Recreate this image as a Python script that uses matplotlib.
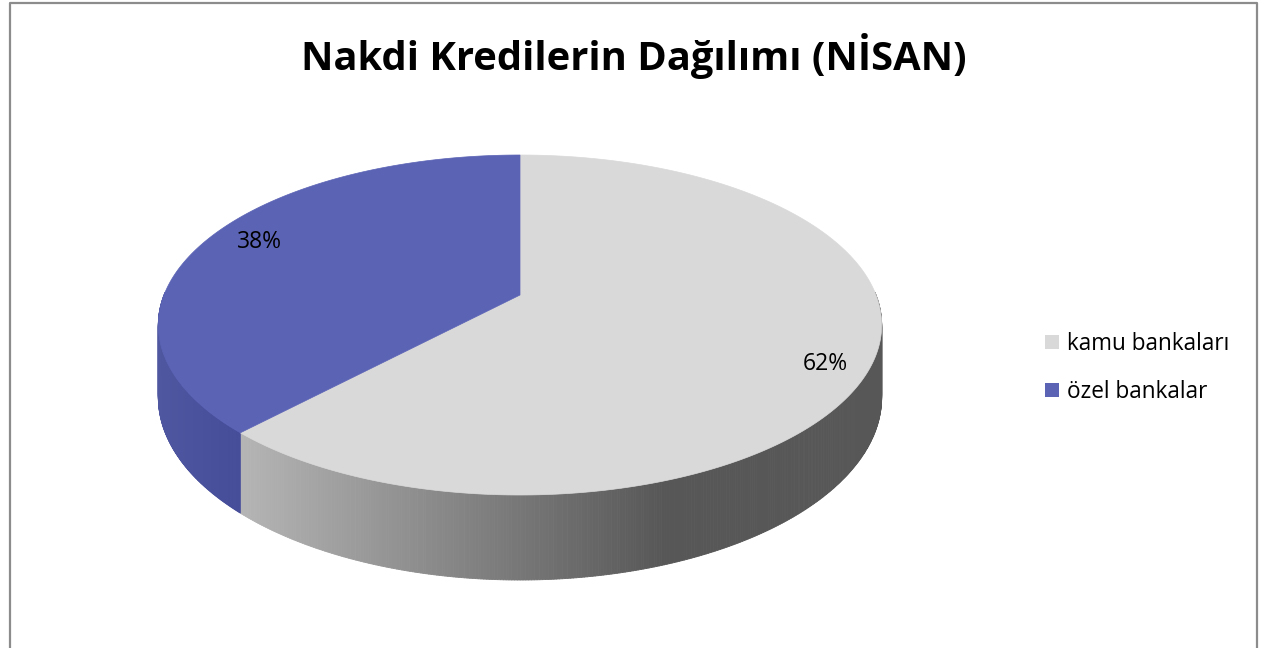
import numpy as np
import matplotlib.pyplot as plt
from matplotlib.patches import Polygon, Patch
from matplotlib.collections import PolyCollection
from matplotlib.lines import Line2D

# data
labels = ["kamu bankaları", "özel bankalar"]
shares = [62, 38]
title = "Nakdi Kredilerin Dağılımı (NİSAN)"

# look
top_colors = ["#d9d9d9", "#5b63b5"]
wall_light = [(0.71, 0.71, 0.71), (0.31, 0.34, 0.63)]
wall_dark = [(0.34, 0.34, 0.34), (0.27, 0.30, 0.60)]
wall_span = [(240, 665), (160, 240)]   # x range of the shading ramp
label_r = [0.87, 0.83]
label_drop = [12, -6]

plt.rcParams['font.family'] = ['Open Sans', 'DejaVu Sans']

W, H = 1263, 648
fig = plt.figure(figsize=(W / 100, H / 100), dpi=100)
ax = fig.add_axes([0, 0, 1, 1])
ax.set_xlim(0, W)
ax.set_ylim(H, 0)
ax.axis('off')

# pie geometry in pixels (perspective tilt k)
cx, cy = 520, 295
a, b, k, depth = 356, 164.7, 0.1765, 70


def proj(theta, r=1.0, drop=0.0):
    u = r * np.cos(theta)
    v = r * np.sin(theta)
    w = 1 + k * v
    return cx + a * u / w, cy - b * v / w + drop / w


fracs = np.array(shares, dtype=float) / sum(shares)
bounds = np.pi / 2 - 2 * np.pi * np.concatenate([[0], np.cumsum(fracs)])

# walls first
for i in range(len(shares)):
    t = np.linspace(bounds[i], bounds[i + 1], 600)
    front = np.sin(t) <= 0.02
    if not front.any():
        continue
    tt = t[front]
    xt, yt = proj(tt)
    xb, yb = proj(tt, drop=depth)
    quads, cols = [], []
    for j in range(len(tt) - 1):
        quads.append([(xt[j], yt[j]), (xt[j + 1], yt[j + 1]),
                      (xb[j + 1], yb[j + 1]), (xb[j], yb[j])])
        xm = 0.5 * (xt[j] + xt[j + 1])
        f = np.clip((xm - wall_span[i][0]) / (wall_span[i][1] - wall_span[i][0]), 0, 1)
        c = tuple((1 - f) * np.array(wall_light[i]) + f * np.array(wall_dark[i]))
        cols.append(c)
    ax.add_collection(PolyCollection(quads, facecolors=cols, edgecolors=cols,
                                     linewidths=0.6, zorder=1))

# top faces
for i in range(len(shares)):
    t = np.linspace(bounds[i], bounds[i + 1], 400)
    xs, ys = proj(t)
    pts = [(cx, cy)] + list(zip(xs, ys))
    ax.add_patch(Polygon(pts, closed=True, facecolor=top_colors[i],
                         edgecolor=top_colors[i], linewidth=0.5, zorder=2))

# percentage labels
for i in range(len(shares)):
    mid = 0.5 * (bounds[i] + bounds[i + 1])
    lx, ly = proj(mid, r=label_r[i], drop=label_drop[i])
    ax.text(lx, ly, f"{shares[i]}%", ha='center', va='center',
            fontsize=16.5, color='black', zorder=3)

fig.text(634 / W, 1 - 56 / H, title, ha='center', va='center',
         fontsize=28.7, fontweight='bold')

handles = [Patch(facecolor=c, edgecolor='none') for c in top_colors]
fig.legend(handles, labels, loc='center left', bbox_to_anchor=(1034 / W, 1 - 368 / H),
           frameon=False, fontsize=16.3, handlelength=0.6, handleheight=0.6,
           handletextpad=0.35, labelspacing=1.05, borderpad=0)

# chart border (bottom edge lies outside the picture)
bx = [9.5, 9.5, 1257, 1257]
by = [H + 5, 2.5, 2.5, H + 5]
ax.add_line(Line2D(bx, by, color='#8c8c8c', linewidth=1.6, zorder=5))

fig.savefig('out.png', dpi=100)
